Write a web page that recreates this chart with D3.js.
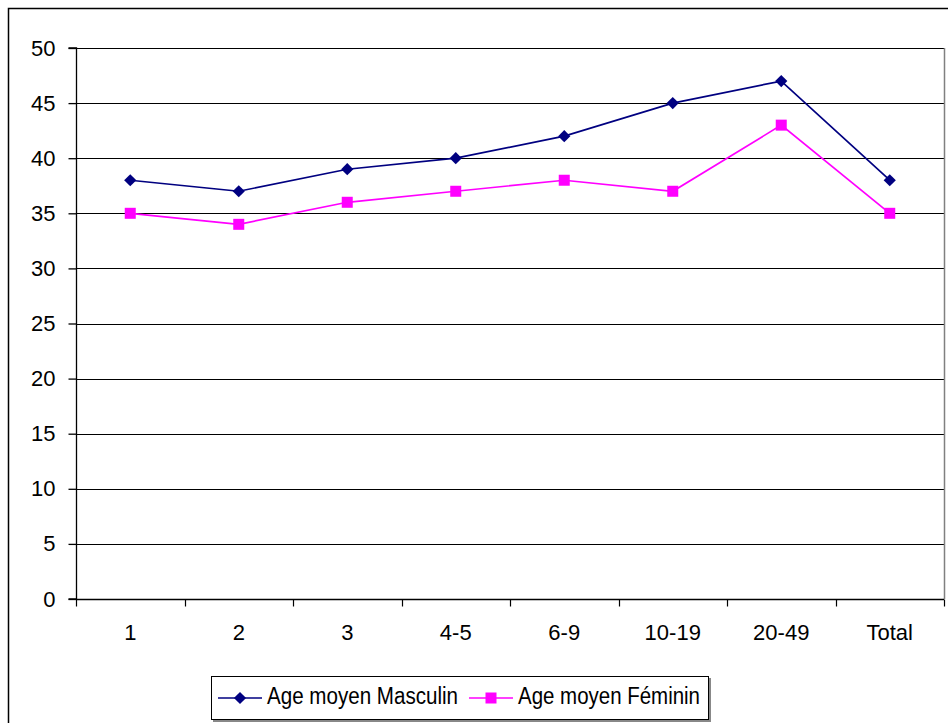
<!DOCTYPE html>
<html>
<head>
<meta charset="utf-8">
<script src="https://cdn.jsdelivr.net/npm/d3@7"></script>
<style>
  html, body { margin: 0; padding: 0; background: #fff; }
  svg { display: block; font-family: "Liberation Sans", Arial, sans-serif; }
</style>
</head>
<body>
<svg id="chart" width="948" height="723"></svg>
<script>
// Average age by category, male and female
const categories = ["1", "2", "3", "4-5", "6-9", "10-19", "20-49", "Total"];
const masculin = [38, 37, 39, 40, 42, 45, 47, 38];
const feminin = [35, 34, 36, 37, 38, 37, 43, 35];
const yTicks = [0, 5, 10, 15, 20, 25, 30, 35, 40, 45, 50];
const seriesNames = ["Age moyen Masculin", "Age moyen Féminin"];

const svg = d3.select("#chart");
const FONT = "'Liberation Sans', Arial, sans-serif";

// outer frame
svg.append("rect")
  .attr("x", 8.5).attr("y", 8.5)
  .attr("width", 960).attr("height", 740)
  .attr("fill", "none").attr("stroke", "#000").attr("stroke-width", 1.5);

const plotLeft = 76, plotRight = 944, plotTop = 48, plotBottom = 599;

const x = d3.scaleBand().domain(categories).range([plotLeft, plotRight]);
const y = d3.scaleLinear().domain([0, 50]).range([plotBottom, plotTop]);

// gridlines
svg.append("g")
  .selectAll("line")
  .data(yTicks.filter(d => d > 0))
  .join("line")
  .attr("x1", plotLeft).attr("x2", plotRight)
  .attr("y1", d => Math.round(y(d)) + 0.5).attr("y2", d => Math.round(y(d)) + 0.5)
  .attr("stroke", "#000").attr("stroke-width", 1);

// right edge of plot area
svg.append("line")
  .attr("x1", plotRight + 0.5).attr("x2", plotRight + 0.5)
  .attr("y1", plotTop).attr("y2", plotBottom)
  .attr("stroke", "#808080").attr("stroke-width", 1.5);

// y axis
const yAxis = d3.axisLeft(y).tickValues(yTicks).tickSize(8).tickPadding(13);
svg.append("g")
  .attr("transform", `translate(${plotLeft + 0.5},0)`)
  .call(yAxis)
  .call(g => g.selectAll("text").attr("font-size", 22).attr("fill", "#000")
    .attr("font-family", FONT))
  .call(g => g.selectAll("line,path").attr("stroke", "#000").attr("stroke-width", 1.3))
  .call(g => g.select(".domain").attr("d", `M-8,${y(0)}H0V${y(50)}H-8`));

// x axis with ticks at band boundaries
const xAxis = d3.axisBottom(x).tickSize(0).tickPadding(25);
const gx = svg.append("g")
  .attr("transform", `translate(0,${plotBottom + 0.5})`)
  .call(xAxis)
  .call(g => g.selectAll("text").attr("font-size", 22).attr("fill", "#000")
    .attr("font-family", FONT))
  .call(g => g.select(".domain").attr("d", `M${plotLeft},0H${plotRight}`).attr("stroke", "#000").attr("stroke-width", 1.3));
gx.selectAll(".bnd")
  .data(categories.map(c => x(c)).concat([plotRight]))
  .join("line")
  .attr("class", "bnd")
  .attr("x1", d => Math.round(d) + 0.5).attr("x2", d => Math.round(d) + 0.5)
  .attr("y1", 0).attr("y2", 7)
  .attr("stroke", "#000").attr("stroke-width", 1.2);

const cx = c => x(c) + x.bandwidth() / 2;
const line = d3.line().x((d, i) => cx(categories[i])).y(d => y(d));
const diamond = d3.symbol().type(d3.symbolDiamond2).size(95);

// Masculin series
svg.append("path").datum(masculin)
  .attr("d", line).attr("fill", "none").attr("stroke", "#000080").attr("stroke-width", 1.7);
svg.append("g").selectAll("path")
  .data(masculin)
  .join("path")
  .attr("d", diamond)
  .attr("transform", (d, i) => `translate(${cx(categories[i])},${y(d)})`)
  .attr("fill", "#000080");

// Féminin series
svg.append("path").datum(feminin)
  .attr("d", line).attr("fill", "none").attr("stroke", "#FF00FF").attr("stroke-width", 1.7);
svg.append("g").selectAll("rect")
  .data(feminin)
  .join("rect")
  .attr("x", (d, i) => cx(categories[i]) - 5.5)
  .attr("y", d => y(d) - 5.5)
  .attr("width", 11).attr("height", 11)
  .attr("fill", "#FF00FF");

// legend
const lg = svg.append("g");
lg.append("rect")
  .attr("x", 213).attr("y", 678).attr("width", 498).attr("height", 44)
  .attr("fill", "#888");
lg.append("rect")
  .attr("x", 211.5).attr("y", 676.5).attr("width", 497).attr("height", 43)
  .attr("fill", "#fff").attr("stroke", "#000").attr("stroke-width", 1);

const legendItems = [
  { name: seriesNames[0], color: "#000080", marker: "diamond", x0: 218, tx: 267, w: 191 },
  { name: seriesNames[1], color: "#FF00FF", marker: "square", x0: 469, tx: 518, w: 182 }
];
const ly = 698;
legendItems.forEach(it => {
  lg.append("line")
    .attr("x1", it.x0).attr("x2", it.x0 + 44)
    .attr("y1", ly).attr("y2", ly)
    .attr("stroke", it.color).attr("stroke-width", 1.7);
  if (it.marker === "diamond") {
    lg.append("path")
      .attr("d", diamond)
      .attr("transform", `translate(${it.x0 + 22},${ly})`)
      .attr("fill", it.color);
  } else {
    lg.append("rect")
      .attr("x", it.x0 + 22 - 5.5).attr("y", ly - 5.5)
      .attr("width", 11).attr("height", 11)
      .attr("fill", it.color);
  }
  lg.append("text")
    .attr("x", it.tx).attr("y", 704)
    .attr("font-size", 23.5)
    .attr("font-family", FONT)
    .attr("textLength", it.w)
    .attr("lengthAdjust", "spacingAndGlyphs")
    .attr("fill", "#000")
    .text(it.name);
});
</script>
</body>
</html>
